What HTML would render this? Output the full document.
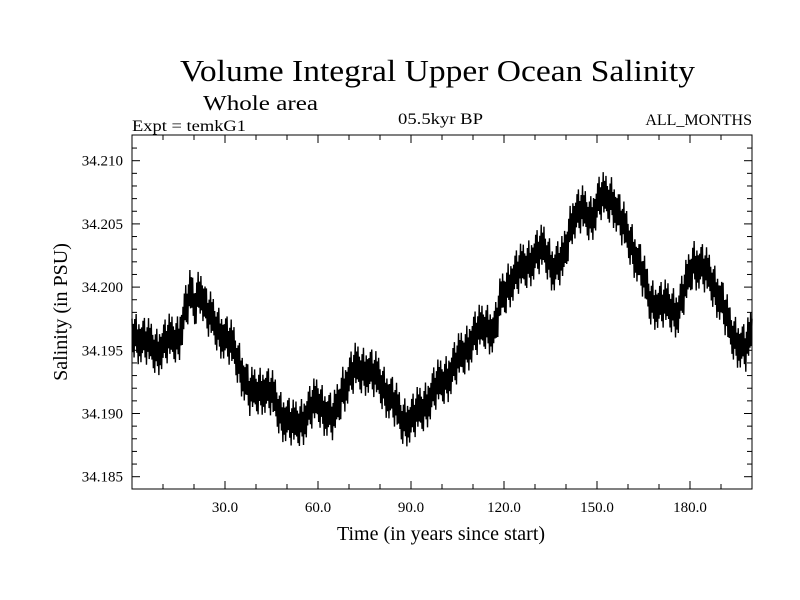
<!DOCTYPE html>
<html><head><meta charset="utf-8"><style>
html,body{margin:0;padding:0;background:#fff;}
svg{display:block;font-family:"Liberation Serif",serif;}
</style></head><body>
<svg id="chart" width="800" height="600" xmlns="http://www.w3.org/2000/svg">
<text x="180" y="81" font-size="31" textLength="515" lengthAdjust="spacingAndGlyphs">Volume Integral Upper Ocean Salinity</text>
<text x="203" y="110" font-size="21" textLength="115" lengthAdjust="spacingAndGlyphs">Whole area</text>
<text x="132" y="131" font-size="16" textLength="114" lengthAdjust="spacingAndGlyphs">Expt = temkG1</text>
<text x="398" y="124" font-size="16" textLength="85" lengthAdjust="spacingAndGlyphs">05.5kyr BP</text>
<text x="752" y="125" font-size="16" text-anchor="end">ALL_MONTHS</text>
<text transform="translate(67,312) rotate(-90)" font-size="20" text-anchor="middle">Salinity (in PSU)</text>
<text x="441" y="540" font-size="20" text-anchor="middle">Time (in years since start)</text>
<g id="axes"></g>
<g id="series"></g>
<rect x="132" y="135" width="620" height="354" fill="none" stroke="#000" stroke-width="1"/>
</svg>
<script>
const yearsMid = [0,2,5,8,12,15,17,19,20,22,24,27,30,33,36,38,42,45,48,52,55,58,60,63,65,68,72,76,80,84,87,90,94,98,102,106,110,114,117,119,122,126,130,133,136,139,142,145,148,151,155,158,161,164,167,170,173,176,178,181,184,187,190,193,196,198,200];
const salinityMid = [34.1965,34.196,34.1955,34.195,34.1958,34.196,34.198,34.1995,34.1985,34.2,34.198,34.197,34.196,34.195,34.193,34.1915,34.192,34.1915,34.190,34.189,34.1895,34.1905,34.191,34.190,34.1895,34.192,34.1935,34.1935,34.1925,34.191,34.1895,34.1895,34.1905,34.192,34.193,34.1945,34.196,34.197,34.1965,34.199,34.2005,34.2015,34.2025,34.203,34.2015,34.202,34.2055,34.206,34.2055,34.207,34.207,34.205,34.2035,34.2015,34.199,34.1985,34.1985,34.198,34.1995,34.202,34.2015,34.2005,34.199,34.1965,34.1955,34.195,34.1965];
const noiseSpread = [0.0010,0.0016,0.0007,0.0019,0.0012,0.0009,0.0017,0.0013,0.0006,0.0021,0.0011,0.0014,0.0008,0.0018,0.0010];
const xTicks = [30,60,90,120,150,180];
const xTickLabels = ["30.0","60.0","90.0","120.0","150.0","180.0"];
const yTicks = [34.185,34.19,34.195,34.2,34.205,34.21];
const yTickLabels = ["34.185","34.190","34.195","34.200","34.205","34.210"];

const L=132,R=752,T=135,B=489;
const x0=0,x1=200;
function xs(v){return L+(v-x0)/(x1-x0)*(R-L);}
function ys(v){return 160.7+(34.21-v)/0.001*12.64;}
const NS="http://www.w3.org/2000/svg";
const axes=document.getElementById('axes');
function line(x1_,y1_,x2_,y2_,name){const l=document.createElementNS(NS,'line');l.setAttribute('x1',x1_);l.setAttribute('y1',y1_);l.setAttribute('x2',x2_);l.setAttribute('y2',y2_);l.setAttribute('stroke','#000');l.setAttribute('stroke-width','1');


axes.appendChild(l);}
function text(x,y,s,anchor,name){const t=document.createElementNS(NS,'text');t.setAttribute('x',x);t.setAttribute('y',y);t.setAttribute('font-size','15');t.setAttribute('text-anchor',anchor);t.textContent=s;


axes.appendChild(t);}
for(let v=10;v<200;v+=10){const X=xs(v);const major=v%30===0;const len=major?8:5;
line(X,B,X,B-len,'x-tick');line(X,T,X,T+len,'x-tick-top');}
xTicks.forEach((v,i)=>text(xs(v),512,xTickLabels[i],'middle','x-tick-label'));
for(let k=0;k<=27;k++){const v=34.184+k*0.001;const Y=ys(v);if(Y<T||Y>B)continue;const major=Math.abs((v*1000)%5)<1e-6||Math.abs((v*1000)%5-5)<1e-6;const len=major?8:5;
line(L,Y,L+len,Y,'y-tick');line(R,Y,R-len,Y,'y-tick-right');}
yTicks.forEach((v,i)=>text(123,ys(v)+5,yTickLabels[i],'end','y-tick-label'));

function interp(t){for(let i=0;i<yearsMid.length-1;i++){if(t<=yearsMid[i+1]){const f=(t-yearsMid[i])/(yearsMid[i+1]-yearsMid[i]);return salinityMid[i]+f*(salinityMid[i+1]-salinityMid[i]);}}return salinityMid[salinityMid.length-1];}
let pts=[];const steps=900;
for(let k=0;k<=steps;k++){const t=x0+k*(x1-x0)/steps;const a=noiseSpread[k%noiseSpread.length];const v=interp(t)+(k%2===0?a:-a);pts.push(xs(t).toFixed(2)+','+ys(v).toFixed(2));}
const pl=document.createElementNS(NS,'polyline');pl.setAttribute('points',pts.join(' '));pl.setAttribute('fill','none');pl.setAttribute('stroke','#000');pl.setAttribute('stroke-width','1.4');


document.getElementById('series').appendChild(pl);
</script>
</body></html>
